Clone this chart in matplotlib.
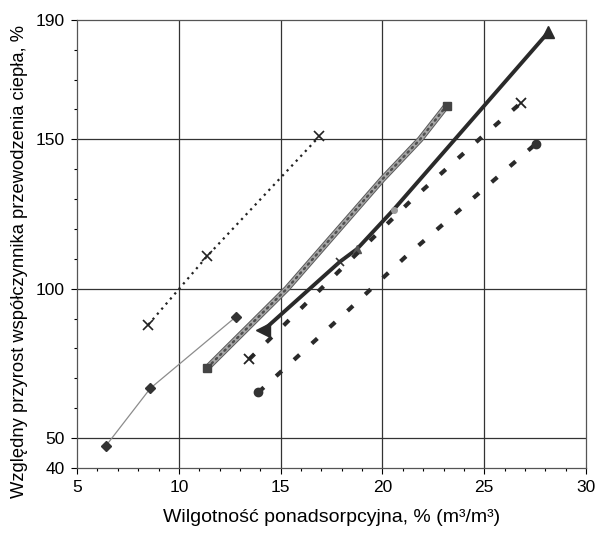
import matplotlib
matplotlib.use("Agg")
import matplotlib.pyplot as plt
import matplotlib.patheffects as pe
from matplotlib.ticker import MultipleLocator

plt.rcParams['font.family'] = ['Liberation Sans', 'DejaVu Sans']

# dane
cross_dot_x = [8.5, 11.4, 16.9]
cross_dot_y = [88, 111, 151]

diamond_x = [6.4, 8.6, 12.8]
diamond_y = [47.3, 66.7, 90.6]

dense_x = [11.4, 15.3, 20.0, 21.85, 23.15]
dense_y = [73.6, 100, 136.7, 150, 161.3]

tri_x = [14.15, 17.9, 18.75, 20.55, 28.15]
tri_y = [86.1, 109.0, 113.3, 126.5, 185.9]

cross_dash_x = [13.45, 21.4, 24.8, 26.8]
cross_dash_y = [76.4, 129.5, 150.3, 162.2]

circle_dash_x = [13.9, 18.35, 21.1, 27.55]
circle_dash_y = [65.3, 93.0, 110.5, 148.6]

fig = plt.figure(figsize=(5.98, 5.37), dpi=100)
ax = fig.add_axes([0.129, 0.1285, 0.851, 0.8345])

# kropkowana z krzyżykami
ax.plot(cross_dot_x, cross_dot_y, color='#222222', lw=1.6, linestyle=(0, (1, 2)))
ax.plot(cross_dot_x, cross_dot_y, 'x', color='#222222', ms=7, mew=1.2)

# cienka szara z rombami
ax.plot(diamond_x, diamond_y, color='#8c8c8c', lw=0.9)
ax.plot(diamond_x, diamond_y, 'D', color='#333333', ms=5)

# gęsta linia z kółkami
ax.plot(dense_x, dense_y, color='#a8a8a8', lw=3.2, solid_capstyle='round',
        path_effects=[pe.Stroke(linewidth=4.6, foreground='#5a5a5a'), pe.Normal()])
ax.plot(dense_x, dense_y, color='#505050', lw=1.8, linestyle=(0, (0.6, 1.8)),
        dash_capstyle='round')
ax.plot([dense_x[0], dense_x[-1]], [dense_y[0], dense_y[-1]], 's', color='#444444', ms=6)

# gruba ciągła z trójkątami
ax.plot(tri_x, tri_y, color='#2a2a2a', lw=2.8)
ax.plot(tri_x[0], tri_y[0], '<', color='#2a2a2a', ms=10)
ax.plot(tri_x[-1], tri_y[-1], '^', color='#2a2a2a', ms=8)
ax.plot(tri_x[2], tri_y[2], '^', color='#555555', ms=6)
ax.plot(tri_x[1], tri_y[1], 'x', color='#333333', ms=6, mew=1.2)
ax.plot(tri_x[3], tri_y[3], 'o', color='#999999', ms=4)

# przerywana z krzyżykami
ax.plot(cross_dash_x, cross_dash_y, color='#2a2a2a', lw=3, linestyle=(0, (1.8, 4)))
ax.plot([cross_dash_x[0], cross_dash_x[-1]], [cross_dash_y[0], cross_dash_y[-1]], 'x',
        color='#222222', ms=7, mew=1.3)

# przerywana z kółkami
ax.plot(circle_dash_x, circle_dash_y, color='#2a2a2a', lw=3, linestyle=(0, (1.8, 4)))
ax.plot([circle_dash_x[0], circle_dash_x[-1]], [circle_dash_y[0], circle_dash_y[-1]], 'o',
        color='#333333', ms=6)

ax.set_xlim(5, 30)
ax.set_ylim(40, 190)
ax.set_xticks([5, 10, 15, 20, 25, 30])
ax.set_yticks([40, 50, 100, 150, 190])
ax.xaxis.set_minor_locator(MultipleLocator(1))
ax.yaxis.set_minor_locator(MultipleLocator(10))
ax.tick_params(which='major', length=4, width=0.8, labelsize=12.5, pad=5)
ax.tick_params(which='minor', length=2.5, width=0.8)

for v in [10, 15, 20, 25]:
    ax.axvline(v, color='#333333', lw=0.9, zorder=0)
for v in [50, 100, 150]:
    ax.axhline(v, color='#333333', lw=0.9, zorder=0)

for s in ax.spines.values():
    s.set_color('#555555')
    s.set_linewidth(0.9)

ax.set_xlabel('Wilgotność ponadsorpcyjna, % (m³/m³)', fontsize=14, labelpad=10)
ax.set_ylabel('Względny przyrost współczynnika przewodzenia ciepła, %', fontsize=13.2)
ax.yaxis.set_label_coords(-0.096, 0.46)

fig.savefig('out.png', dpi=100)
